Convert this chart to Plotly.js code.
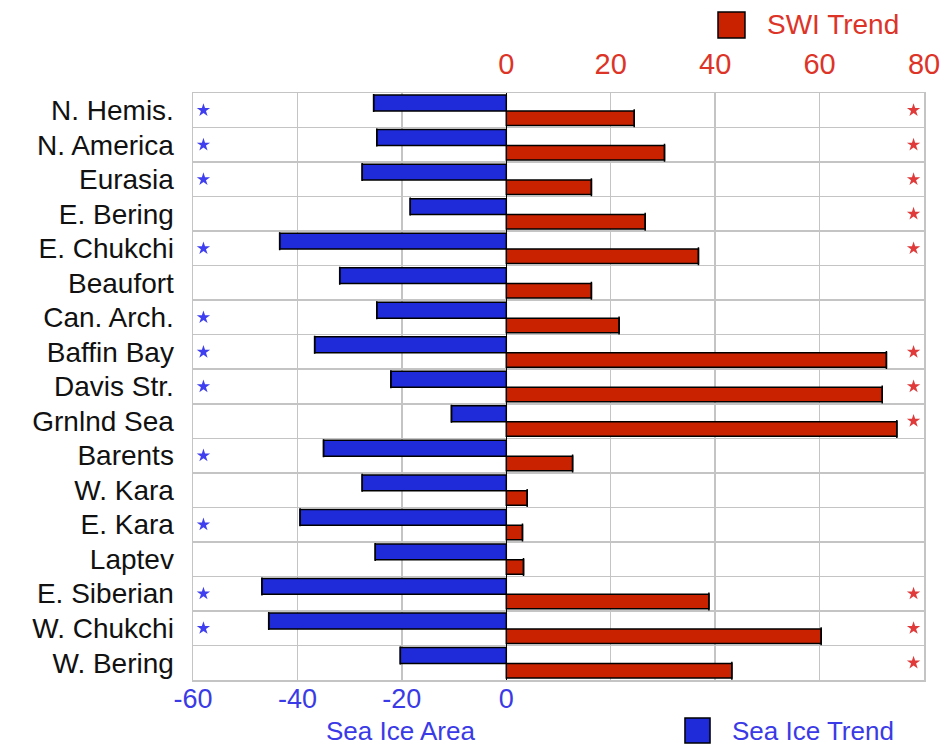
<!DOCTYPE html>
<html>
<head>
<meta charset="utf-8">
<script src="https://cdn.plot.ly/plotly-3.0.1.min.js"></script>
<style>html,body{margin:0;padding:0;background:#fff;}#chart{width:951px;height:745px;}</style>
</head>
<body>
<div id="chart"></div>
<script>
const categories = ["N. Hemis.", "N. America", "Eurasia", "E. Bering", "E. Chukchi", "Beaufort",
  "Can. Arch.", "Baffin Bay", "Davis Str.", "Grnlnd Sea", "Barents", "W. Kara", "E. Kara",
  "Laptev", "E. Siberian", "W. Chukchi", "W. Bering"];
const seaIceTrend = [-25.4, -24.8, -27.6, -18.4, -43.4, -31.9, -24.8, -36.7, -22.1, -10.5,
  -35.0, -27.6, -39.5, -25.1, -46.8, -45.5, -20.3];
const swiTrend = [24.5, 30.3, 16.3, 26.6, 36.8, 16.3, 21.6, 72.8, 72.0, 74.8,
  12.7, 4.0, 3.1, 3.3, 38.8, 60.3, 43.2];
const seaIceSignificant = [1, 1, 1, 0, 1, 0, 1, 1, 1, 0, 1, 0, 1, 0, 1, 1, 0];
const swiSignificant = [1, 1, 1, 1, 1, 0, 0, 1, 1, 1, 0, 0, 0, 0, 1, 1, 1];
const bottomTicks = [-60, -40, -20, 0];
const topTicks = [0, 20, 40, 60, 80];

const BLUE = '#1f2ad8', RED = '#c82200';
const BLUE_TXT = '#3a3ae6', RED_TXT = '#dd3428';
const GRID = '#c4c4c4';
const FONT = 'Liberation Sans, Arial, sans-serif';

const blueStarsY = categories.filter((c, i) => seaIceSignificant[i]);
const redStarsY = categories.filter((c, i) => swiSignificant[i]);

const traces = [
  {
    type: 'bar', orientation: 'h', name: 'Sea Ice Trend',
    x: seaIceTrend, y: categories, xaxis: 'x', yaxis: 'y',
    offset: -0.44, width: 0.46,
    marker: {color: BLUE, line: {color: '#000', width: 1.5}},
    error_x: {type: 'data', array: seaIceTrend.map(() => 0), width: 9, thickness: 1.5, color: '#000'},
    showlegend: false, hoverinfo: 'x+y'
  },
  {
    type: 'bar', orientation: 'h', name: 'SWI Trend',
    x: swiTrend, y: categories, xaxis: 'x2', yaxis: 'y',
    offset: 0.02, width: 0.42,
    marker: {color: RED, line: {color: '#000', width: 1.5}},
    error_x: {type: 'data', array: swiTrend.map(() => 0), width: 9, thickness: 1.5, color: '#000'},
    showlegend: false, hoverinfo: 'x+y'
  },
  {
    type: 'scatter', mode: 'markers', x: blueStarsY.map(() => -58), y: blueStarsY,
    xaxis: 'x', yaxis: 'y',
    marker: {symbol: 'star', size: 10, color: '#3f3ff0'}, showlegend: false, hoverinfo: 'skip'
  },
  {
    type: 'scatter', mode: 'markers', x: redStarsY.map(() => 78), y: redStarsY,
    xaxis: 'x', yaxis: 'y',
    marker: {symbol: 'star', size: 10, color: '#e03a3a'}, showlegend: false, hoverinfo: 'skip'
  }
];

const layout = {
  width: 951, height: 745,
  margin: {l: 193, r: 27, t: 93, b: 65},
  paper_bgcolor: '#fff', plot_bgcolor: '#fff',
  font: {family: FONT, color: '#111'},
  showlegend: false,
  xaxis: {
    range: [-60, 80], tickmode: 'array', tickvals: bottomTicks,
    ticktext: bottomTicks.map(String),
    tickfont: {size: 27, color: BLUE_TXT}, ticks: '', ticklabelstandoff: -6,
    showgrid: true, gridcolor: GRID, gridwidth: 1.5,
    zeroline: true, zerolinecolor: '#000', zerolinewidth: 1.5,
    showline: true, mirror: true, linecolor: GRID, linewidth: 1.5, fixedrange: true
  },
  xaxis2: {
    overlaying: 'x', side: 'top', anchor: 'y',
    range: [-60, 80], tickmode: 'array', tickvals: topTicks,
    ticktext: topTicks.map(String),
    tickfont: {size: 29, color: RED_TXT}, ticks: '', ticklabelstandoff: 12,
    showgrid: true, gridcolor: GRID, gridwidth: 1.5,
    zeroline: false, showline: false, fixedrange: true
  },
  yaxis: {
    type: 'category', categoryorder: 'array', categoryarray: categories,
    range: [16.5, -0.5], tickson: 'boundaries', ticks: '',
    tickfont: {size: 28, color: '#111'},
    showgrid: true, gridcolor: GRID, gridwidth: 1.5,
    showline: true, mirror: true, linecolor: GRID, linewidth: 1.5,
    zeroline: false, ticklabelstandoff: 12, fixedrange: true
  },
  shapes: [
    {type: 'rect', xref: 'paper', yref: 'paper', x0: 0.7182, x1: 0.7551, y0: 1.0937, y1: 1.138,
      fillcolor: RED, line: {color: '#000', width: 1.5}},
    {type: 'rect', xref: 'paper', yref: 'paper', x0: 0.673, x1: 0.7073, y0: -0.1073, y1: -0.0647,
      fillcolor: BLUE, line: {color: '#000', width: 1.5}}
  ],
  annotations: [
    {xref: 'paper', yref: 'paper', x: 0.7825, y: 1.1175, xanchor: 'left', yanchor: 'middle',
      text: 'SWI Trend', showarrow: false, font: {size: 28, color: RED_TXT}},
    {xref: 'paper', yref: 'paper', x: 0.2832, y: -0.0869, xanchor: 'center', yanchor: 'middle',
      text: 'Sea Ice Area', showarrow: false, font: {size: 26, color: BLUE_TXT}},
    {xref: 'paper', yref: 'paper', x: 0.7346, y: -0.0869, xanchor: 'left', yanchor: 'middle',
      text: 'Sea Ice Trend', showarrow: false, font: {size: 26, color: BLUE_TXT}}
  ]
};

Plotly.newPlot('chart', traces, layout, {displayModeBar: false, staticPlot: true});
</script>
</body>
</html>
